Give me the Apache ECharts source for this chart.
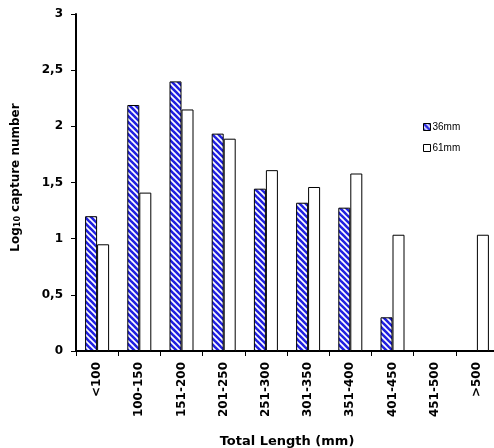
<!DOCTYPE html>
<html>
<head>
<meta charset="utf-8">
<script src="https://cdn.jsdelivr.net/npm/echarts@6/dist/echarts.min.js"></script>
<style>html,body{margin:0;padding:0;background:#fff;}#c{width:494px;height:448px;}</style>
</head>
<body>
<div id="c"></div>
<script>
var categories = ['<100','100-150','151-200','201-250','251-300','301-350','351-400','401-450','451-500','>500'];
var mesh36 = [1.20, 2.19, 2.40, 1.935, 1.445, 1.32, 1.276, 0.30, 0, 0];
var mesh61 = [0.95, 1.41, 2.15, 1.89, 1.61, 1.46, 1.58, 1.035, 0, 1.035];
var seriesNames = ['36mm', '61mm'];

function makePattern() {
  var c = document.createElement('canvas');
  var s = 6;
  c.width = s; c.height = s;
  var ctx = c.getContext('2d');
  ctx.fillStyle = '#ffffff';
  ctx.fillRect(0, 0, s, s);
  ctx.strokeStyle = '#2020e0';
  ctx.lineWidth = 2.6;
  for (var o = -s; o <= s; o += s) {
    ctx.beginPath();
    ctx.moveTo(o - 1, -1);
    ctx.lineTo(o + s + 1, s + 1);
    ctx.stroke();
  }
  return c;
}

var chart = echarts.init(document.getElementById('c'), null, {renderer: 'canvas'});
var font = '"DejaVu Sans", sans-serif';
chart.setOption({
  animation: false,
  textStyle: {fontFamily: font},
  grid: {left: 76, right: -4, top: 14, bottom: 97, containLabel: false, outerBoundsMode: 'none'},
  legend: {
    orient: 'vertical', left: 418, top: 117, itemWidth: 7, itemHeight: 7, itemGap: 11,
    textStyle: {fontSize: 10, color: '#000', fontFamily: 'Arial, "Liberation Sans", sans-serif', padding: [0,0,0,-3]},
    data: [
      {name: seriesNames[0], icon: 'rect', itemStyle: {borderColor: '#000', borderWidth: 1}},
      {name: seriesNames[1], icon: 'rect', itemStyle: {borderColor: '#000', borderWidth: 1}}
    ]
  },
  xAxis: {
    type: 'category', data: categories, boundaryGap: true,
    name: 'Total Length (mm)', nameLocation: 'middle', nameGap: 84,
    nameTextStyle: {fontSize: 13, fontWeight: 'bold', color: '#000', fontFamily: font},
    axisLine: {lineStyle: {color: '#000', width: 2}},
    axisTick: {show: true, length: 5, lineStyle: {color: '#000', width: 1}, alignWithLabel: false},
    axisLabel: {rotate: 90, fontSize: 12, fontWeight: 'bold', color: '#000', margin: 11, interval: 0, fontFamily: font},
    splitLine: {show: false}
  },
  yAxis: {
    type: 'value', min: 0, max: 3, interval: 0.5,
    name: 'Log{sub|10} capture number', nameLocation: 'middle', nameGap: 54, nameRotate: 90,
    nameTextStyle: {fontSize: 12, fontWeight: 'bold', color: '#000', fontFamily: font, padding: [0, 0, 0, 10],
      rich: {sub: {fontSize: 8, fontWeight: 'bold', color: '#000', fontFamily: font, verticalAlign: 'bottom', padding: [5,0,0,0]}}},
    axisLine: {show: true, lineStyle: {color: '#000', width: 2}},
    axisTick: {show: true, length: 5, lineStyle: {color: '#000', width: 1}},
    axisLabel: {fontSize: 12, fontWeight: 'bold', color: '#000', margin: 13, fontFamily: font,
      formatter: function (v) { return String(v).replace('.', ','); }},
    splitLine: {show: false}
  },
  series: [
    {name: seriesNames[0], type: 'bar', data: mesh36, barWidth: 12, barGap: '0%',
      itemStyle: {color: {image: makePattern(), repeat: 'repeat'}, borderColor: '#000', borderWidth: 1}},
    {name: seriesNames[1], type: 'bar', data: mesh61, barWidth: 12, barGap: '0%',
      itemStyle: {color: '#ffffff', borderColor: '#000', borderWidth: 1}}
  ]
});
</script>
</body>
</html>
